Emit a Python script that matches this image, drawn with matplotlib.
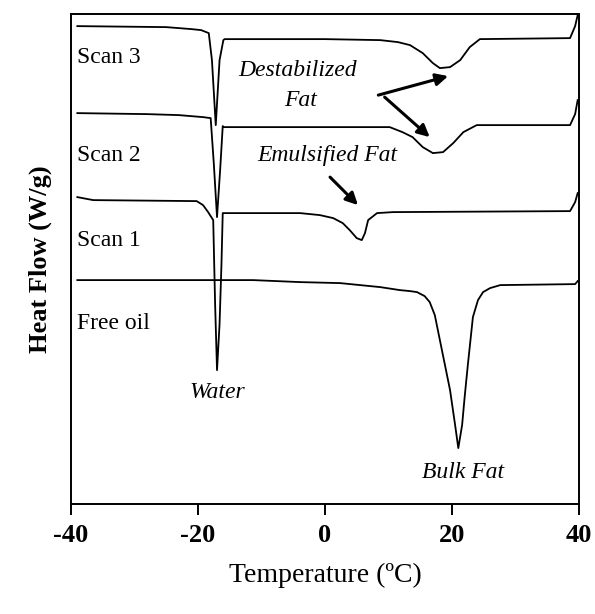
import numpy as np
from matplotlib import pyplot as plt

plt.rcParams['font.family'] = ['Liberation Serif', 'DejaVu Serif']
plt.rcParams['axes.unicode_minus'] = False

# DSC traces: temperature (C) and heat flow (arbitrary, offset per trace)
scan3_t = [-39.0, -25.0, -23.0, -21.0, -19.5, -18.3, -17.8, -17.2, -16.6, -16.0, -15.8,
           0.0, 8.7, 11.5, 13.4, 15.4, 17.0, 18.1, 19.7, 21.3, 22.8, 24.4, 38.6, 39.4, 39.8]
scan3_q = [47.8, 47.7, 47.6, 47.5, 47.4, 47.1, 44.4, 37.9, 44.4, 46.4, 46.5,
           46.5, 46.4, 46.2, 45.9, 45.1, 44.1, 43.6, 43.7, 44.4, 45.7, 46.5, 46.6, 47.8, 48.9]

scan2_t = [-39.0, -28.0, -23.0, -19.2, -18.0, -17.5, -17.0, -16.5, -16.1, -15.9,
           0.0, 10.2, 12.2, 13.8, 15.4, 17.0, 18.6, 20.2, 21.8, 23.9, 38.6, 39.4, 39.8]
scan2_q = [39.1, 39.0, 38.9, 38.7, 38.6, 34.0, 28.7, 33.5, 37.8, 37.7,
           37.7, 37.7, 37.2, 36.7, 35.7, 35.1, 35.2, 36.1, 37.2, 37.9, 37.9, 39.0, 40.4]

scan1_t = [-39.0, -36.5, -20.2, -19.2, -18.4, -17.6, -17.3, -17.0, -16.6, -16.3, -16.1,
           -3.9, -0.8, 1.3, 2.8, 3.9, 5.0, 5.8, 6.3, 6.8, 8.2, 10.7, 38.6, 39.4, 39.8]
scan1_q = [30.7, 30.4, 30.3, 29.9, 29.2, 28.4, 20.0, 13.4, 18.0, 24.0, 29.1,
           29.1, 28.9, 28.6, 28.1, 27.4, 26.6, 26.4, 27.1, 28.4, 29.1, 29.2, 29.3, 30.2, 31.1]

oil_t = [-39.0, -11.3, -3.9, 2.4, 8.7, 11.8, 13.4, 14.5, 15.7, 16.5, 17.3, 18.1, 18.9, 19.7, 20.5,
         21.0, 21.6, 22.0, 22.5, 23.3, 24.1, 24.9, 26.0, 27.6, 39.4, 39.8]
oil_q = [22.4, 22.4, 22.2, 22.1, 21.7, 21.4, 21.3, 21.2, 20.8, 20.2, 18.9, 16.4, 13.9, 11.4, 7.9,
         5.6, 7.9, 10.7, 13.9, 18.7, 20.4, 21.2, 21.6, 21.9, 22.0, 22.3]

trace_labels = ['Scan 3', 'Scan 2', 'Scan 1', 'Free oil']
trace_label_y = [44.7, 34.9, 26.4, 18.1]

fig = plt.figure(figsize=(5.95, 6.14), dpi=100)
ax = fig.add_axes([0.1193, 0.179, 0.8537, 0.798])

for t, q in [(scan3_t, scan3_q), (scan2_t, scan2_q), (scan1_t, scan1_q), (oil_t, oil_q)]:
    ax.plot(t, q, color='black', lw=1.3)

for lab, yy in zip(trace_labels, trace_label_y):
    ax.text(-39.0, yy, lab, fontsize=17, va='center', ha='left')

ax.text(-4.3, 43.4, 'Destabilized', fontsize=17, style='italic', ha='center', va='center')
ax.text(-3.9, 40.4, 'Fat', fontsize=17, style='italic', ha='center', va='center')
ax.text(0.3, 34.9, 'Emulsified Fat', fontsize=17, style='italic', ha='center', va='center')
ax.text(-16.9, 11.2, 'Water', fontsize=17, style='italic', ha='center', va='center')
ax.text(21.7, 3.2, 'Bulk Fat', fontsize=17, style='italic', ha='center', va='center')

arrow = dict(arrowstyle='-|>', color='black', lw=2.2, mutation_scale=18, shrinkA=0, shrinkB=0)
ax.annotate('', xy=(19.4, 42.8), xytext=(8.4, 40.9), arrowprops=arrow)
ax.annotate('', xy=(16.5, 36.7), xytext=(9.4, 40.7), arrowprops=arrow)
ax.annotate('', xy=(5.2, 29.9), xytext=(0.8, 32.7), arrowprops=arrow)

ax.set_xlim(-40, 40)
ax.set_ylim(0, 49)
ax.set_xticks([-40, -20, 0, 20, 40])
ax.set_yticks([])
ax.tick_params(axis='x', direction='out', length=8, width=1.4, pad=6, labelsize=19)
for lab in ax.get_xticklabels():
    lab.set_fontweight('bold')
for sp in ax.spines.values():
    sp.set_linewidth(1.4)

ax.set_xlabel('Temperature (ºC)', fontsize=20, labelpad=12)
ax.set_ylabel('Heat Flow (W/g)', fontsize=19, fontweight='bold', labelpad=14)

plt.savefig('out.png', dpi=100)
